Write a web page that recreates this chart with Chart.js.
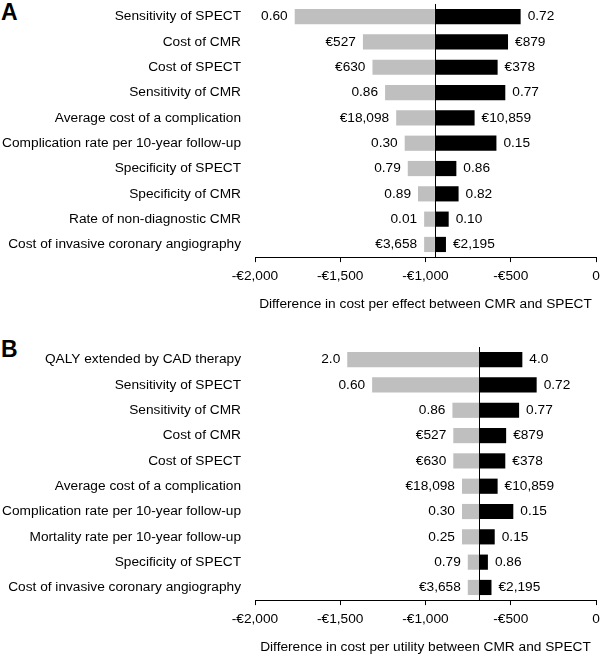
<!DOCTYPE html>
<html>
<head>
<meta charset="utf-8">
<script src="https://cdn.jsdelivr.net/npm/chart.js@4"></script>
<style>
  body { margin: 0; background: #fff; width: 600px; height: 656px; overflow: hidden; position: relative; }
  .panel { position: absolute; left: 0; width: 600px; height: 316px; }
  .letter { position: absolute; font: bold 23px "Liberation Sans", Arial, sans-serif; line-height: 23px; color: #000; }
</style>
</head>
<body>
<div class="letter" style="left:1px; top:1px;">A</div>
<div class="letter" style="left:1px; top:338px;">B</div>
<div class="panel" style="top:0;"><canvas id="chart-a"></canvas></div>
<div class="panel" style="top:343px;"><canvas id="chart-b"></canvas></div>
<script>
// Panel A: cost per effect
const labelsA = [
  "Sensitivity of SPECT",
  "Cost of CMR",
  "Cost of SPECT",
  "Sensitivity of CMR",
  "Average cost of a complication",
  "Complication rate per 10-year follow-up",
  "Specificity of SPECT",
  "Specificity of CMR",
  "Rate of non-diagnostic CMR",
  "Cost of invasive coronary angiography",
];
const baseA = -945;
const lowA = [-1767, -1367, -1311, -1237, -1172, -1122, -1104, -1044, -1008, -1008];
const highA = [-442, -516, -577, -532, -712, -584, -819, -806, -864, -880];
const lowTextA = ["0.60", "€527", "€630", "0.86", "€18,098", "0.30", "0.79", "0.89", "0.01", "€3,658"];
const highTextA = ["0.72", "€879", "€378", "0.77", "€10,859", "0.15", "0.86", "0.82", "0.10", "€2,195"];

// Panel B: cost per utility
const labelsB = [
  "QALY extended by CAD therapy",
  "Sensitivity of SPECT",
  "Sensitivity of CMR",
  "Cost of CMR",
  "Cost of SPECT",
  "Average cost of a complication",
  "Complication rate per 10-year follow-up",
  "Mortality rate per 10-year follow-up",
  "Specificity of SPECT",
  "Cost of invasive coronary angiography",
];
const baseB = -686;
const lowB = [-1459, -1313, -842, -837, -837, -786, -786, -786, -752, -752];
const highB = [-432, -348, -451, -527, -532, -577, -485, -594, -634, -613];
const lowTextB = ["2.0", "0.60", "0.86", "€527", "€630", "€18,098", "0.30", "0.25", "0.79", "€3,658"];
const highTextB = ["4.0", "0.72", "0.77", "€879", "€378", "€10,859", "0.15", "0.15", "0.86", "€2,195"];

// x axis ticks
const xMin = -2000;
const xMax = 0;
const xStep = 500;

const FONT = "'Liberation Sans', Arial, sans-serif";
const FONT_SIZE = 13.7;

function euro(v) {
  if (v === 0) return "0";
  const s = String(Math.abs(v)).replace(/\B(?=(\d{3})+(?!\d))/g, ",");
  return (v < 0 ? "-€" : "€") + s;
}

// vertical line at the base case + value labels at bar ends
const tornadoPlugin = {
  id: "tornado",
  afterDatasetsDraw(chart, args, opts) {
    const { ctx, chartArea, scales } = chart;
    const x = scales.x;
    const y = scales.y;
    const bx = Math.round(x.getPixelForValue(opts.base)) + 0.5;
    ctx.save();
    ctx.strokeStyle = "#000";
    ctx.lineWidth = 1;
    ctx.beginPath();
    ctx.moveTo(bx, chartArea.top);
    ctx.lineTo(bx, chartArea.bottom);
    ctx.stroke();

    ctx.fillStyle = "#000";
    ctx.font = `${FONT_SIZE}px ${FONT}`;
    ctx.textBaseline = "middle";
    opts.low.forEach((v, i) => {
      const yy = y.getPixelForValue(i);
      ctx.textAlign = "right";
      ctx.fillText(opts.lowText[i], x.getPixelForValue(v) - 7, yy);
      ctx.textAlign = "left";
      ctx.fillText(opts.highText[i], x.getPixelForValue(opts.high[i]) + 7, yy);
    });
    ctx.restore();
  },
};

function makeChart(id, labels, base, low, high, lowText, highText, title) {
  return new Chart(document.getElementById(id), {
    type: "bar",
    data: {
      labels: labels,
      datasets: [
        {
          data: low.map((v) => [v, base]),
          backgroundColor: "#bfbfbf",
          grouped: false,
        },
        {
          data: high.map((v) => [base, v]),
          backgroundColor: "#000000",
          grouped: false,
        },
      ],
    },
    options: {
      indexAxis: "y",
      responsive: true,
      maintainAspectRatio: false,
      animation: false,
      categoryPercentage: 1,
      barPercentage: 0.6,
      layout: { padding: { top: 4, right: 0, left: 0, bottom: 0 } },
      plugins: {
        legend: { display: false },
        tooltip: { enabled: false },
        tornado: { base, low, high, lowText, highText },
      },
      scales: {
        x: {
          min: xMin,
          max: xMax,
          ticks: {
            stepSize: xStep,
            color: "#000",
            padding: 6,
            maxRotation: 0,
            font: { family: FONT, size: FONT_SIZE },
            callback: (v) => euro(v),
          },
          grid: { drawOnChartArea: false, drawTicks: true, tickLength: 5, color: "#000" },
          border: { display: true, color: "#000", width: 1 },
          title: {
            display: true,
            text: title,
            color: "#000",
            font: { family: FONT, size: FONT_SIZE },
            padding: { top: 5, bottom: 4 },
          },
          afterFit: (scale) => {
            scale.paddingLeft = 0;
            scale.paddingRight = 4;
          },
        },
        y: {
          ticks: {
            color: "#000",
            padding: 14,
            autoSkip: false,
            font: { family: FONT, size: FONT_SIZE },
          },
          grid: { display: false, drawTicks: false },
          border: { display: false },
          afterFit: (scale) => {
            scale.width = 255;
            scale.paddingTop = 0;
            scale.paddingBottom = 0;
          },
        },
      },
    },
    plugins: [tornadoPlugin],
  });
}

makeChart("chart-a", labelsA, baseA, lowA, highA, lowTextA, highTextA,
  "Difference in cost per effect between CMR and SPECT");
makeChart("chart-b", labelsB, baseB, lowB, highB, lowTextB, highTextB,
  "Difference in cost per utility between CMR and SPECT");
</script>
</body>
</html>
